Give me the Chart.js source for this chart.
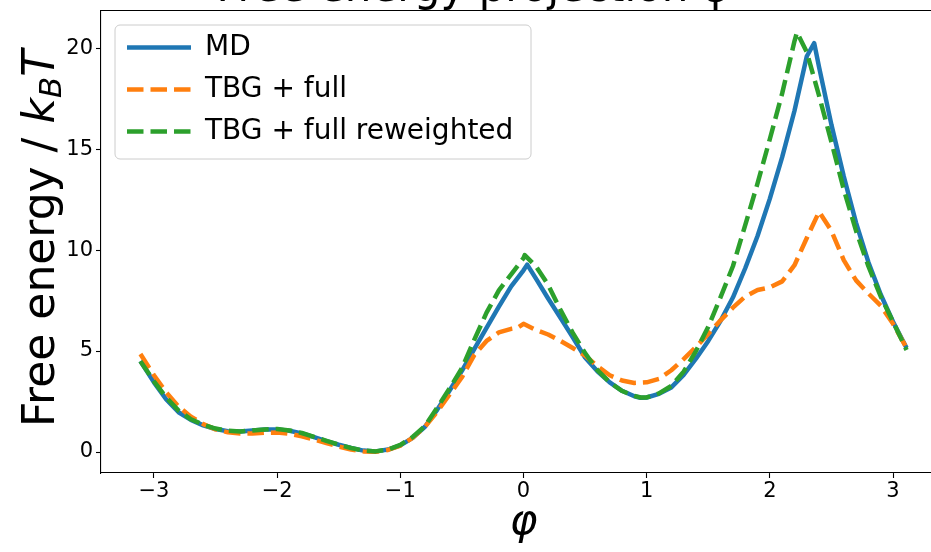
<!DOCTYPE html>
<html>
<head>
<meta charset="utf-8">
<script src="https://cdn.jsdelivr.net/npm/chart.js@4.4.1/dist/chart.umd.min.js"></script>
<style>
html,body{margin:0;padding:0;overflow:hidden;background:#fff;width:931px;height:552px;}
#wrap{position:absolute;left:0;top:-40px;width:1047px;height:592px;}
</style>
</head>
<body>
<div id="wrap"><canvas id="c" width="1047" height="592"></canvas></div>
<script>
// ---- data ----
const chartTitle = 'Free energy projection φ';
const xTitle = 'φ';
const yTitleParts = ['Free energy / ', 'k', 'B', 'T'];
const seriesLabels = ['MD', 'TBG + full', 'TBG + full reweighted'];
const xTicks = [-3, -2, -1, 0, 1, 2, 3];
const yTicks = [0, 5, 10, 15, 20];

const phiMD = [-3.11,-3.0,-2.9,-2.8,-2.7,-2.6,-2.5,-2.4,-2.3,-2.2,-2.1,-2.0,-1.9,-1.8,-1.7,-1.6,-1.5,-1.4,-1.3,-1.2,-1.1,-1.0,-0.9,-0.8,-0.7,-0.6,-0.5,-0.4,-0.3,-0.2,-0.1,0.0,0.03,0.1,0.2,0.3,0.4,0.5,0.6,0.7,0.8,0.9,0.95,1.0,1.1,1.2,1.3,1.4,1.5,1.6,1.7,1.8,1.9,2.0,2.1,2.2,2.3,2.36,2.4,2.5,2.6,2.7,2.8,2.9,3.0,3.11];
const freeMD = [4.5,3.45,2.6,1.97,1.59,1.32,1.14,1.03,1.01,1.06,1.11,1.12,1.05,0.92,0.74,0.54,0.36,0.2,0.07,0.03,0.12,0.33,0.7,1.25,2.1,3.05,4.02,5.1,6.15,7.2,8.2,9.0,9.28,8.6,7.6,6.65,5.68,4.68,4.0,3.45,3.03,2.76,2.69,2.7,2.88,3.2,3.82,4.62,5.5,6.5,7.65,9.1,10.7,12.55,14.6,16.9,19.6,20.25,19.05,16.2,13.65,11.35,9.4,7.8,6.45,5.15];

const phiTBG = [-3.11,-3.0,-2.9,-2.8,-2.7,-2.6,-2.5,-2.4,-2.3,-2.2,-2.1,-2.0,-1.9,-1.8,-1.7,-1.6,-1.5,-1.4,-1.3,-1.2,-1.1,-1.0,-0.9,-0.8,-0.7,-0.6,-0.5,-0.4,-0.3,-0.2,-0.1,-0.05,0.0,0.1,0.2,0.3,0.4,0.5,0.6,0.7,0.8,0.9,1.0,1.1,1.2,1.3,1.4,1.5,1.6,1.7,1.8,1.9,2.0,2.1,2.2,2.3,2.4,2.5,2.6,2.7,2.8,2.9,3.0,3.11];
const freeTBG = [4.85,3.8,2.95,2.25,1.75,1.38,1.12,0.98,0.92,0.92,0.95,0.96,0.9,0.78,0.62,0.44,0.27,0.12,0.03,0.01,0.1,0.32,0.7,1.25,2.0,2.85,3.7,4.8,5.5,5.92,6.1,6.15,6.35,6.05,5.82,5.5,5.15,4.78,4.25,3.8,3.54,3.42,3.45,3.62,4.05,4.6,5.2,5.85,6.52,7.15,7.7,8.02,8.15,8.45,9.25,10.6,11.9,10.95,9.5,8.5,7.85,7.25,6.35,5.15];

const phiRW = [-3.11,-3.0,-2.9,-2.8,-2.7,-2.6,-2.5,-2.4,-2.3,-2.2,-2.1,-2.0,-1.9,-1.8,-1.7,-1.6,-1.5,-1.4,-1.3,-1.2,-1.1,-1.0,-0.9,-0.8,-0.7,-0.6,-0.5,-0.4,-0.3,-0.2,-0.1,0.0,0.01,0.1,0.2,0.3,0.4,0.5,0.6,0.7,0.8,0.9,0.95,1.0,1.1,1.2,1.3,1.4,1.5,1.6,1.7,1.8,1.9,2.0,2.1,2.2,2.22,2.3,2.4,2.5,2.6,2.7,2.8,2.9,3.0,3.11];
const freeRW = [4.5,3.5,2.7,2.05,1.62,1.35,1.16,1.05,1.02,1.07,1.12,1.14,1.07,0.94,0.75,0.55,0.36,0.2,0.07,0.03,0.12,0.35,0.74,1.28,2.2,3.15,4.15,5.55,6.9,8.0,8.8,9.6,9.75,9.2,8.28,7.04,5.9,4.9,4.05,3.45,3.02,2.78,2.7,2.7,2.9,3.27,3.98,5.0,6.2,7.67,9.2,11.24,13.3,15.5,17.76,20.35,20.78,19.8,17.63,15.35,13.0,10.95,9.2,7.7,6.45,5.05];

// ---- styles ----
const colMD = '#1f77b4', colTBG = '#ff7f0e', colRW = '#2ca02c';
const LW = 4.5;
const DASH = [16.5, 7];
const FONT = 'DejaVu Sans';

Chart.defaults.font.family = FONT;
Chart.defaults.color = '#000';

const toXY = (xs, ys) => xs.map((x, i) => ({x: x, y: ys[i]}));
const fmtTick = v => (v < 0 ? '\u2212' + Math.abs(v) : String(v));

const frameAndLabels = {
  id: 'frameAndLabels',
  afterLayout(chart) {
    const ca = chart.chartArea, lg = chart.legend;
    if (lg) {
      lg.left = ca.left + 12; lg.right = lg.left + lg.width;
      lg.top = ca.top + 8.5; lg.bottom = lg.top + lg.height;
    }
  },
  beforeDraw(chart) {
    const ca = chart.chartArea, ctx = chart.ctx;
    const x = ca.left + 14, y = ca.top + 14, w = 416, h = 134, r = 5;
    ctx.save();
    ctx.beginPath();
    ctx.moveTo(x + r, y);
    ctx.arcTo(x + w, y, x + w, y + h, r);
    ctx.arcTo(x + w, y + h, x, y + h, r);
    ctx.arcTo(x, y + h, x, y, r);
    ctx.arcTo(x, y, x + w, y, r);
    ctx.closePath();
    ctx.fillStyle = 'rgba(255,255,255,0.8)';
    ctx.fill();
    ctx.lineWidth = 1;
    ctx.strokeStyle = '#cccccc';
    ctx.stroke();
    ctx.restore();
  },
  afterDraw(chart) {
    const ca = chart.chartArea, ctx = chart.ctx;
    const cy = (ca.top + ca.bottom) / 2 - 3.5;
    const parts = [
      {t: yTitleParts[0], f: '44px "' + FONT + '"', dy: 0},
      {t: yTitleParts[1], f: 'italic 44px "' + FONT + '"', dy: 0},
      {t: yTitleParts[2], f: 'italic 31px "' + FONT + '"', dy: 7},
      {t: yTitleParts[3], f: 'italic 44px "' + FONT + '"', dy: 0}
    ];
    ctx.save();
    ctx.translate(54, cy);
    ctx.rotate(-Math.PI / 2);
    ctx.fillStyle = '#000';
    ctx.textBaseline = 'alphabetic';
    ctx.textAlign = 'left';
    let total = 0;
    parts.forEach(p => { ctx.font = p.f; p.w = ctx.measureText(p.t).width; total += p.w; });
    let px = -total / 2;
    parts.forEach(p => { ctx.font = p.f; ctx.fillText(p.t, px, p.dy); px += p.w; });
    ctx.restore();
  }
};

new Chart(document.getElementById('c'), {
  type: 'line',
  data: {
    datasets: [
      {label: seriesLabels[0], data: toXY(phiMD, freeMD), borderColor: colMD, backgroundColor: colMD,
       borderWidth: LW, borderDash: [], borderCapStyle: 'butt', borderJoinStyle: 'round', order: 3},
      {label: seriesLabels[1], data: toXY(phiTBG, freeTBG), borderColor: colTBG, backgroundColor: colTBG,
       borderWidth: LW, borderDash: DASH, borderCapStyle: 'butt', borderJoinStyle: 'round', order: 2},
      {label: seriesLabels[2], data: toXY(phiRW, freeRW), borderColor: colRW, backgroundColor: colRW,
       borderWidth: LW, borderDash: DASH, borderCapStyle: 'butt', borderJoinStyle: 'round', order: 1}
    ]
  },
  options: {
    responsive: false,
    animation: false,
    devicePixelRatio: 1,
    events: [],
    elements: {point: {radius: 0, hoverRadius: 0}, line: {tension: 0, fill: false}},
    layout: {padding: {left: 0, right: 101, top: 0, bottom: 0}},
    plugins: {
      tooltip: {enabled: false},
      title: {
        display: true, text: chartTitle, color: '#000',
        font: {size: 42, weight: 'normal', family: FONT, lineHeight: 0.9},
        padding: {top: 11.6, bottom: 1.6}
      },
      legend: {
        display: true, position: 'chartArea', align: 'start',
        labels: {
          font: {size: 28, family: FONT}, color: '#000', padding: 14,
          usePointStyle: true, pointStyleWidth: 64,
          generateLabels: (chart) => chart.data.datasets.map((ds, i) => ({
            text: ds.label, datasetIndex: i, fillStyle: ds.borderColor, strokeStyle: ds.borderColor,
            lineWidth: ds.borderWidth, lineDash: ds.borderDash, lineDashOffset: 0, lineCap: 'butt',
            pointStyle: 'line', hidden: false, fontColor: '#000'
          }))
        }
      }
    },
    scales: {
      x: {
        type: 'linear', position: 'bottom', min: -3.43, max: 3.43,
        afterBuildTicks: s => { s.ticks = xTicks.map(v => ({value: v})); },
        afterFit: s => { s.height = 79; },
        ticks: {font: {size: 21}, color: '#000', padding: 1.4, maxRotation: 0, autoSkip: false, callback: v => fmtTick(v)},
        grid: {display: true, drawOnChartArea: false, drawTicks: true, tickLength: 5, tickColor: '#000', tickWidth: 1.1},
        border: {display: true, color: '#000', width: 1.1},
        title: {display: true, text: xTitle, color: '#000',
                font: {size: 42, style: 'italic', family: FONT, lineHeight: 1.2},
                padding: {top: 0, bottom: 3.8}}
      },
      xTop: {
        type: 'linear', axis: 'x', position: 'top', min: -3.43, max: 3.43,
        afterFit: s => { s.height = 0; },
        ticks: {display: false},
        grid: {display: false, drawTicks: false},
        border: {display: true, color: '#000', width: 1.1}
      },
      y: {
        type: 'linear', position: 'left', min: -1.04, max: 21.84,
        afterBuildTicks: s => { s.ticks = yTicks.map(v => ({value: v})); },
        afterFit: s => { s.width = 101; },
        ticks: {font: {size: 21}, color: '#000', padding: 3, autoSkip: false, callback: v => fmtTick(v)},
        grid: {display: true, drawOnChartArea: false, drawTicks: true, tickLength: 5, tickColor: '#000', tickWidth: 1.1},
        border: {display: true, color: '#000', width: 1.1},
        title: {display: false}
      }
    }
  },
  plugins: [frameAndLabels]
});
</script>
</body>
</html>
